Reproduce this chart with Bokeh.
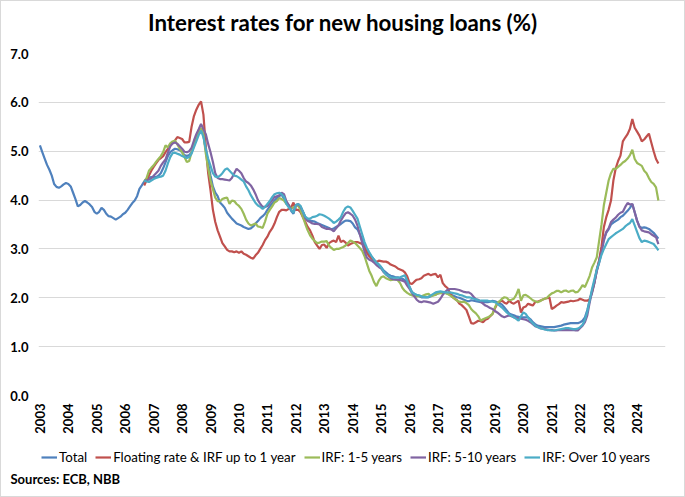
import numpy as np
from bokeh.plotting import figure
from bokeh.layouts import column
from bokeh.models import (Range1d, FixedTicker, NumeralTickFormatter, Legend,
                          LegendItem, Title, Label)
from bokeh.embed import file_html
from bokeh.resources import INLINE

# Monthly interest rates (%) on new housing loans
year_ticks = list(range(2003, 2025))

# Total: Jan 2003 - Oct 2024
total = [
    5.12, 4.98, 4.85, 4.72, 4.62, 4.50, 4.33, 4.27, 4.25, 4.28, 4.32, 4.35,  # 2003
    4.33, 4.28, 4.15, 4.02, 3.87, 3.90, 3.95, 3.98, 3.95, 3.91, 3.86, 3.76,  # 2004
    3.72, 3.76, 3.84, 3.80, 3.72, 3.67, 3.66, 3.63, 3.60, 3.63, 3.66, 3.71,  # 2005
    3.74, 3.80, 3.87, 3.94, 3.99, 4.08, 4.23, 4.30, 4.38, 4.42, 4.46, 4.47,  # 2006
    4.47, 4.47, 4.50, 4.55, 4.65, 4.77, 4.90, 4.98, 5.02, 5.05, 5.04, 5.02,  # 2007
    4.98, 4.92, 4.90, 4.92, 4.98, 5.12, 5.28, 5.38, 5.46, 5.33, 5.02, 4.75,  # 2008
    4.50, 4.28, 4.15, 4.08, 3.95, 3.90, 3.84, 3.74, 3.68, 3.62, 3.57, 3.52,  # 2009
    3.50, 3.48, 3.45, 3.43, 3.41, 3.42, 3.46, 3.52, 3.57, 3.63, 3.67, 3.72,  # 2010
    3.80, 3.87, 3.93, 3.99, 4.04, 4.08, 4.11, 4.03, 3.95, 3.88, 3.78, 3.72,  # 2011
    3.88, 3.90, 3.86, 3.76, 3.65, 3.59, 3.58, 3.57, 3.56, 3.53, 3.51, 3.49,  # 2012
    3.47, 3.45, 3.43, 3.40, 3.42, 3.45, 3.48, 3.51, 3.55, 3.58, 3.58, 3.57,  # 2013
    3.52, 3.44, 3.40, 3.30, 3.20, 3.07, 2.98, 2.90, 2.84, 2.78, 2.73, 2.68,  # 2014
    2.63, 2.56, 2.52, 2.48, 2.45, 2.44, 2.42, 2.42, 2.40, 2.39, 2.36, 2.32,  # 2015
    2.22, 2.12, 2.08, 2.05, 2.03, 2.01, 2.01, 2.01, 2.01, 2.03, 2.05, 2.07,  # 2016
    2.09, 2.10, 2.11, 2.11, 2.09, 2.07, 2.05, 2.03, 2.01, 2.00, 1.98, 1.96,  # 2017
    1.94, 1.93, 1.95, 1.94, 1.93, 1.92, 1.91, 1.91, 1.91, 1.91, 1.92, 1.94,  # 2018
    1.93, 1.91, 1.89, 1.86, 1.80, 1.74, 1.68, 1.66, 1.64, 1.62, 1.61, 1.60,  # 2019
    1.60, 1.60, 1.60, 1.56, 1.50, 1.46, 1.43, 1.42, 1.41, 1.40, 1.40, 1.40,  # 2020
    1.40, 1.40, 1.41, 1.42, 1.43, 1.45, 1.46, 1.47, 1.48, 1.48, 1.48, 1.48,  # 2021
    1.50, 1.53, 1.60, 1.75, 1.95, 2.10, 2.30, 2.55, 2.76, 3.00, 3.20, 3.33,  # 2022
    3.40, 3.50, 3.54, 3.57, 3.60, 3.65, 3.68, 3.73, 3.78, 3.84, 3.92, 3.75,  # 2023
    3.58, 3.46, 3.43, 3.44, 3.43, 3.41, 3.37, 3.33, 3.27, 3.21,              # 2024
]

# Breakdown by initial rate fixation: Sep 2006 - Oct 2024
floating = [
    4.30, 4.40, 4.50, 4.60,
    4.68, 4.75, 4.82, 4.86, 4.90, 4.98, 5.05, 5.12, 5.17, 5.22, 5.29, 5.27,
    5.25, 5.18, 5.18, 5.19, 5.50, 5.72, 5.85, 5.95, 6.02, 5.75, 5.10, 4.55,
    4.20, 3.80, 3.55, 3.38, 3.25, 3.12, 3.05, 2.98, 2.95, 2.95, 2.93, 2.95,
    2.92, 2.95, 2.90, 2.88, 2.85, 2.82, 2.80, 2.87, 2.92, 3.00, 3.08, 3.18,
    3.25, 3.35, 3.42, 3.52, 3.65, 3.76, 3.80, 3.80, 3.79, 3.82, 3.85, 3.95,
    3.80, 3.80, 3.75, 3.65, 3.55, 3.45, 3.38, 3.27, 3.14, 3.07, 3.00, 3.08,
    3.09, 3.02, 3.12, 3.15, 3.17, 3.14, 3.27, 3.14, 3.17, 3.13, 3.07, 3.10,
    3.12, 3.14, 3.14, 3.12, 3.10, 3.02, 2.92, 2.85, 2.80, 2.76, 2.73, 2.76,
    2.75, 2.74, 2.74, 2.72, 2.68, 2.66, 2.64, 2.60, 2.58, 2.56, 2.52, 2.44,
    2.30, 2.28, 2.33, 2.37, 2.38, 2.40, 2.45, 2.47, 2.49, 2.46, 2.48, 2.49,
    2.42, 2.47, 2.30, 2.24, 2.20, 2.10, 2.02, 1.98, 1.95, 1.88, 1.85, 1.80,
    1.75, 1.62, 1.48, 1.47, 1.50, 1.53, 1.52, 1.50, 1.55, 1.57, 1.62, 1.67,
    1.78, 1.88, 1.92, 1.94, 1.90, 1.88, 1.94, 1.90, 1.88, 1.91, 1.94, 1.70,
    1.80, 1.82, 1.88, 1.86, 1.84, 1.91, 1.92, 1.94, 1.96, 1.98, 1.99, 2.01,
    1.77, 1.80, 1.84, 1.87, 1.91, 1.90, 1.91, 1.92, 1.94, 1.93, 1.94, 1.95,
    1.98, 1.96, 1.94, 1.94, 1.97, 2.12, 2.32, 2.58, 2.76, 3.05, 3.45, 3.65,
    3.80, 3.99, 4.40, 4.65, 4.80, 4.91, 5.20, 5.28, 5.35, 5.46, 5.66, 5.48,
    5.40, 5.32, 5.20, 5.24, 5.30, 5.36, 5.18, 5.00, 4.84, 4.75,
]

irf_1_5 = [
    4.38, 4.45, 4.60, 4.66,
    4.71, 4.78, 4.84, 4.90, 4.98, 5.12, 5.08, 5.16, 5.20, 5.22, 5.14, 5.05,
    4.98, 4.88, 4.78, 4.80, 4.98, 5.12, 5.25, 5.40, 5.48, 5.35, 4.95, 4.65,
    4.40, 4.22, 4.05, 3.98, 3.97, 4.02, 4.04, 4.05, 3.92, 3.99, 3.98, 3.92,
    3.88, 3.82, 3.72, 3.60, 3.52, 3.48, 3.50, 3.52, 3.46, 3.45, 3.43, 3.56,
    3.72, 3.80, 3.87, 3.95, 3.98, 4.04, 4.02, 3.99, 3.92, 3.90, 3.82, 3.85,
    3.88, 3.89, 3.79, 3.65, 3.51, 3.38, 3.28, 3.21, 3.16, 3.12, 3.13, 3.15,
    3.15, 3.16, 3.07, 3.02, 2.98, 3.00, 3.00, 3.02, 3.04, 3.07, 3.12, 3.17,
    3.15, 3.12, 3.07, 3.02, 2.96, 2.85, 2.70, 2.55, 2.45, 2.32, 2.24, 2.35,
    2.42, 2.44, 2.40, 2.38, 2.36, 2.37, 2.38, 2.36, 2.30, 2.20, 2.14, 2.10,
    2.07, 2.05, 2.04, 2.03, 2.04, 2.03, 2.05, 2.07, 2.08, 2.03, 2.05, 2.06,
    2.09, 2.10, 2.09, 2.10, 2.08, 2.05, 2.02, 1.98, 1.94, 1.92, 1.91, 1.92,
    1.89, 1.85, 1.77, 1.72, 1.68, 1.62, 1.53, 1.56, 1.58, 1.60, 1.63, 1.67,
    1.80, 1.90, 1.93, 1.98, 2.01, 2.00, 1.95, 1.96, 1.98, 2.06, 2.18, 1.94,
    2.05, 2.06, 2.03, 1.99, 1.95, 1.93, 1.91, 1.93, 1.96, 1.98, 2.00, 2.05,
    2.09, 2.11, 2.14, 2.14, 2.11, 2.14, 2.15, 2.12, 2.14, 2.15, 2.11, 2.12,
    2.18, 2.26, 2.22, 2.33, 2.45, 2.62, 2.72, 2.83, 3.17, 3.50, 3.90, 4.15,
    4.40, 4.55, 4.64, 4.64, 4.68, 4.72, 4.77, 4.80, 4.85, 4.92, 5.03, 4.84,
    4.76, 4.73, 4.70, 4.60, 4.55, 4.45, 4.37, 4.33, 4.26, 3.99,
]

irf_5_10 = [
    4.40, 4.40, 4.42, 4.44,
    4.50, 4.55, 4.60, 4.70, 4.77, 4.83, 4.97, 5.10, 5.16, 5.18, 5.15, 5.10,
    5.05, 4.99, 4.98, 5.00, 5.07, 5.22, 5.35, 5.45, 5.56, 5.45, 5.35, 5.15,
    4.98, 4.78, 4.55, 4.45, 4.43, 4.43, 4.42, 4.41, 4.40, 4.45, 4.55, 4.64,
    4.60, 4.55, 4.45, 4.38, 4.35, 4.30, 4.22, 4.12, 4.00, 3.92, 3.86, 3.86,
    3.88, 3.94, 4.00, 4.06, 4.08, 4.10, 4.15, 4.12, 3.98, 3.90, 3.80, 3.75,
    3.90, 3.92, 3.86, 3.76, 3.63, 3.57, 3.55, 3.52, 3.51, 3.51, 3.50, 3.45,
    3.43, 3.41, 3.41, 3.40, 3.36, 3.42, 3.48, 3.58, 3.66, 3.73, 3.75, 3.72,
    3.68, 3.60, 3.48, 3.30, 3.12, 2.95, 2.82, 2.78, 2.76, 2.72, 2.67, 2.63,
    2.60, 2.53, 2.48, 2.44, 2.40, 2.38, 2.37, 2.37, 2.36, 2.35, 2.33, 2.25,
    2.18, 2.10, 2.03, 1.96, 1.92, 1.91, 1.93, 1.92, 1.91, 1.90, 1.88, 1.90,
    1.92, 1.98, 2.06, 2.12, 2.16, 2.18, 2.18, 2.18, 2.17, 2.16, 2.14, 2.12,
    2.11, 2.11, 2.08, 2.02, 1.97, 1.96, 1.92, 1.88, 1.84, 1.82, 1.79, 1.77,
    1.73, 1.70, 1.66, 1.62, 1.60, 1.62, 1.64, 1.62, 1.60, 1.59, 1.58, 1.57,
    1.56, 1.55, 1.53, 1.50, 1.46, 1.42, 1.40, 1.38, 1.37, 1.36, 1.35, 1.34,
    1.34, 1.33, 1.33, 1.34, 1.34, 1.34, 1.34, 1.34, 1.34, 1.34, 1.33, 1.33,
    1.38, 1.43, 1.50, 1.64, 1.90, 2.14, 2.32, 2.55, 2.72, 2.93, 3.17, 3.35,
    3.42, 3.55, 3.60, 3.64, 3.70, 3.74, 3.76, 3.86, 3.94, 3.91, 3.92, 3.75,
    3.58, 3.45, 3.38, 3.36, 3.35, 3.34, 3.30, 3.27, 3.24, 3.10,
]

irf_over_10 = [
    4.40, 4.38, 4.37, 4.40,
    4.43, 4.45, 4.47, 4.48, 4.50, 4.60, 4.75, 4.88, 4.96, 4.97, 4.95, 4.93,
    4.90, 4.88, 4.86, 4.88, 4.95, 5.08, 5.20, 5.33, 5.42, 5.29, 5.05, 4.85,
    4.70, 4.55, 4.48, 4.47, 4.50, 4.55, 4.62, 4.65, 4.60, 4.55, 4.50, 4.49,
    4.46, 4.42, 4.38, 4.28, 4.20, 4.10, 4.02, 3.94, 3.89, 3.86, 3.82, 3.86,
    3.92, 3.98, 4.06, 4.12, 4.14, 4.15, 4.12, 4.07, 3.92, 3.85, 3.80, 3.74,
    3.90, 3.92, 3.88, 3.76, 3.66, 3.62, 3.62, 3.65, 3.66, 3.68, 3.71, 3.70,
    3.68, 3.65, 3.62, 3.58, 3.53, 3.56, 3.60, 3.65, 3.76, 3.84, 3.87, 3.85,
    3.78, 3.70, 3.62, 3.46, 3.30, 3.14, 3.02, 2.93, 2.85, 2.78, 2.72, 2.68,
    2.62, 2.54, 2.48, 2.45, 2.42, 2.41, 2.41, 2.41, 2.42, 2.44, 2.46, 2.35,
    2.22, 2.11, 2.08, 2.06, 2.05, 2.03, 2.02, 2.01, 2.02, 2.05, 2.08, 2.11,
    2.12, 2.13, 2.12, 2.11, 2.11, 2.11, 2.10, 2.09, 2.08, 2.06, 2.05, 2.03,
    2.01, 2.01, 2.00, 1.98, 1.97, 1.95, 1.94, 1.94, 1.94, 1.94, 1.93, 1.92,
    1.91, 1.88, 1.84, 1.80, 1.75, 1.70, 1.66, 1.63, 1.60, 1.57, 1.53, 1.62,
    1.70, 1.67, 1.60, 1.53, 1.48, 1.43, 1.40, 1.38, 1.37, 1.35, 1.34, 1.34,
    1.33, 1.33, 1.34, 1.35, 1.36, 1.37, 1.38, 1.38, 1.37, 1.36, 1.36, 1.37,
    1.40, 1.45, 1.55, 1.72, 1.95, 2.18, 2.38, 2.58, 2.72, 2.88, 3.00, 3.10,
    3.20, 3.24, 3.28, 3.32, 3.35, 3.38, 3.41, 3.46, 3.50, 3.53, 3.61, 3.48,
    3.35, 3.22, 3.14, 3.17, 3.16, 3.14, 3.12, 3.10, 3.04, 2.97,
]

series_names = ["Total", "Floating rate & IRF up to 1 year", "IRF: 1-5 years",
                "IRF: 5-10 years", "IRF: Over 10 years"]
series_colors = ["#4F81BD", "#C0504D", "#9BBB59", "#8064A2", "#4BACC6"]

# monthly time axis in fractional years
x_total = 2003 + np.arange(len(total)) / 12
x_sub = 2006 + 8 / 12 + np.arange(len(floating)) / 12

FONT = "Lato"
W = 683  # inner width (1px border on each side)
LEFT, RIGHT = 37, 19


def strip(height, bottom=0):
    """A bare figure used to hold text above or below the chart."""
    f = figure(width=W, height=height, output_backend="svg", toolbar_location=None,
               x_range=Range1d(0, 1), y_range=Range1d(0, 1),
               min_border_left=LEFT, min_border_right=RIGHT,
               min_border_top=0, min_border_bottom=bottom)
    f.axis.visible = False
    f.grid.visible = False
    f.outline_line_color = None
    f.background_fill_color = "white"
    f.border_fill_color = "white"
    return f


# --- title strip ------------------------------------------------------------
HEAD_H = 40
head = strip(HEAD_H)
head.add_layout(Label(x=342.5 - (LEFT + 1), y=HEAD_H + 1 - 22,
                      x_units="screen", y_units="screen",
                      text="Interest rates for new housing loans (%)",
                      text_align="center", text_baseline="middle",
                      text_font=FONT, text_font_style="bold",
                      text_font_size="22.3px", text_color="#000000"))

# --- main chart -----------------------------------------------------------
MAIN_H = 439 - HEAD_H
p = figure(width=W, height=MAIN_H, output_backend="svg", toolbar_location=None,
           x_range=Range1d(2002.95, 2025.0), y_range=Range1d(0, 7),
           min_border_left=LEFT, min_border_right=RIGHT,
           min_border_top=53 - (HEAD_H + 1), min_border_bottom=45)
p.background_fill_color = "white"
p.border_fill_color = "white"
p.outline_line_color = None

p.xgrid.visible = False
p.ygrid.grid_line_color = "#d9d9d9"
p.ygrid.grid_line_width = 1

p.yaxis.ticker = FixedTicker(ticks=list(range(0, 8)))
p.yaxis.formatter = NumeralTickFormatter(format="0.0")
p.xaxis.ticker = FixedTicker(ticks=year_ticks)
p.xaxis.major_label_orientation = np.pi / 2
for ax in (p.xaxis[0], p.yaxis[0]):
    ax.axis_line_color = None
    ax.major_tick_line_color = None
    ax.minor_tick_line_color = None
    ax.major_tick_out = 0
    ax.major_tick_in = 0
    ax.major_label_text_font = FONT
    ax.major_label_text_font_style = "bold"
    ax.major_label_text_font_size = "13px"
    ax.major_label_text_color = "#000000"
p.yaxis.major_label_standoff = 10
p.xaxis.major_label_standoff = 8

p.line(x_total, total, line_color=series_colors[0], line_width=2.2)
for vals, col in zip([floating, irf_1_5, irf_5_10, irf_over_10], series_colors[1:]):
    p.line(x_sub, vals, line_color=col, line_width=2.2)

# --- legend and source strip ----------------------------------------------
FOOT_H = 56
foot = strip(FOOT_H, bottom=28)

# legend keys: lines without visible points, styled like the series
keys = [foot.line([np.nan], [np.nan], line_color=c, line_width=2.2) for c in series_colors]
legend = Legend(items=[LegendItem(label=n, renderers=[r]) for n, r in zip(series_names, keys)],
                orientation="horizontal", location=(3, 3),
                glyph_width=16, glyph_height=12, label_standoff=2, spacing=8,
                padding=0, margin=0, border_line_color=None,
                background_fill_alpha=0,
                label_text_font=FONT, label_text_font_size="13.3px",
                label_text_color="#000000")
foot.add_layout(legend, "center")

foot.add_layout(Title(text="Sources: ECB, NBB", align="left", offset=10 - (LEFT + 1),
                      standoff=0, text_font=FONT, text_font_style="bold",
                      text_font_size="13px", text_color="#000000"), "below")

layout = column(head, p, foot, spacing=0,
                styles={"border": "1px solid #d9d9d9", "background": "white"})

open("out.html", "w").write(file_html(layout, INLINE))
